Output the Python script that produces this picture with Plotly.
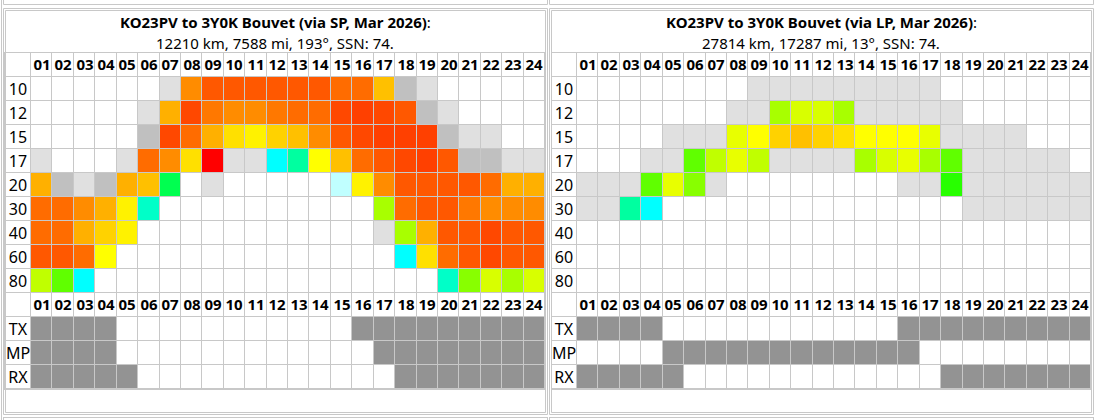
"""
Two propagation panels (short path / long path): hour x band grids,
with the TX / MP / RX daylight strips underneath.
"""

import numpy as np
import plotly.graph_objects as go

W, H = 1105, 420
FONT = "Noto Sans"
LINE = "#c8c8c8"

HOURS = [f"{h:02d}" for h in range(1, 25)]
BANDS = ["10", "12", "15", "17", "20", "30", "40", "60", "80"]
STRIPS = ["TX", "MP", "RX"]

# colour index of each cell: 0 closed, 1-2 marginal greys, then cyan -> red, last = strip grey
PALETTE = [
    "#ffffff", "#e0e0e0", "#c0c0c0", "#c0ffff", "#00ffff", "#00ffc8", "#00ffa0",
    "#00ff50", "#28ff00", "#60ff00", "#88ff00", "#a8ff00", "#c0ff00", "#d8ff00",
    "#e8ff00", "#ffff00", "#fff200", "#ffe000", "#ffd200", "#ffc000", "#ffb000",
    "#ff8c00", "#ff7800", "#ff6c00", "#ff5800", "#ff4800", "#ff4000", "#ff0000",
    "#939393",
]
STRIP_ON = len(PALETTE) - 1

SP_TITLE = "KO23PV to 3Y0K Bouvet (via SP, Mar 2026)"
SP_INFO = "12210 km, 7588 mi, 193°, SSN: 74."
SP_GRID = [
    [0, 0, 0, 0, 0, 0, 1, 21, 24, 24, 24, 24, 24, 24, 23, 23, 19, 2, 1, 0, 0, 0, 0, 0],
    [0, 0, 0, 0, 0, 1, 20, 25, 22, 21, 21, 22, 23, 23, 25, 26, 25, 24, 2, 1, 0, 0, 0, 0],
    [0, 0, 0, 0, 0, 2, 25, 23, 20, 17, 16, 18, 19, 21, 24, 25, 26, 26, 26, 2, 1, 1, 0, 0],
    [1, 0, 0, 0, 1, 23, 21, 17, 27, 1, 1, 4, 6, 15, 19, 23, 24, 25, 26, 24, 2, 2, 1, 1],
    [20, 2, 1, 2, 20, 19, 7, 0, 1, 0, 0, 0, 0, 0, 3, 16, 21, 24, 24, 24, 24, 23, 20, 20],
    [23, 23, 21, 20, 16, 5, 0, 0, 0, 0, 0, 0, 0, 0, 0, 0, 11, 23, 24, 24, 22, 21, 21, 21],
    [23, 23, 20, 18, 16, 0, 0, 0, 0, 0, 0, 0, 0, 0, 0, 0, 1, 11, 20, 24, 24, 25, 24, 24],
    [24, 24, 23, 15, 0, 0, 0, 0, 0, 0, 0, 0, 0, 0, 0, 0, 0, 4, 17, 23, 24, 25, 24, 24],
    [12, 9, 4, 0, 0, 0, 0, 0, 0, 0, 0, 0, 0, 0, 0, 0, 0, 0, 0, 5, 10, 13, 11, 13],
]
SP_STRIPS = [
    [1, 1, 1, 1, 0, 0, 0, 0, 0, 0, 0, 0, 0, 0, 0, 1, 1, 1, 1, 1, 1, 1, 1, 1],
    [1, 1, 1, 1, 0, 0, 0, 0, 0, 0, 0, 0, 0, 0, 0, 0, 1, 1, 1, 1, 1, 1, 1, 1],
    [1, 1, 1, 1, 1, 0, 0, 0, 0, 0, 0, 0, 0, 0, 0, 0, 0, 1, 1, 1, 1, 1, 1, 1],
]

LP_TITLE = "KO23PV to 3Y0K Bouvet (via LP, Mar 2026)"
LP_INFO = "27814 km, 17287 mi, 13°, SSN: 74."
LP_GRID = [
    [0, 0, 0, 0, 0, 0, 0, 0, 1, 1, 1, 1, 1, 1, 1, 1, 1, 0, 0, 0, 0, 0, 0, 0],
    [0, 0, 0, 0, 0, 0, 0, 1, 1, 11, 13, 13, 11, 1, 1, 1, 1, 1, 0, 0, 0, 0, 0, 0],
    [0, 0, 0, 0, 1, 1, 1, 14, 15, 18, 19, 18, 17, 15, 15, 15, 14, 1, 1, 1, 1, 0, 0, 0],
    [0, 0, 0, 1, 1, 9, 12, 14, 12, 1, 1, 1, 1, 11, 13, 14, 11, 9, 1, 1, 1, 1, 1, 0],
    [1, 1, 1, 9, 14, 10, 1, 0, 0, 0, 0, 0, 0, 0, 0, 1, 1, 8, 1, 1, 1, 1, 1, 1],
    [1, 1, 6, 4, 0, 0, 0, 0, 0, 0, 0, 0, 0, 0, 0, 0, 0, 0, 1, 1, 1, 1, 1, 1],
    [0] * 24,
    [0] * 24,
    [0] * 24,
]
LP_STRIPS = [
    [1, 1, 1, 1, 0, 0, 0, 0, 0, 0, 0, 0, 0, 0, 0, 1, 1, 1, 1, 1, 1, 1, 1, 1],
    [0, 0, 0, 0, 1, 1, 1, 1, 1, 1, 1, 1, 1, 1, 1, 1, 0, 0, 0, 0, 0, 0, 0, 0],
    [1, 1, 1, 1, 1, 0, 0, 0, 0, 0, 0, 0, 0, 0, 0, 0, 0, 1, 1, 1, 1, 1, 1, 1],
]

# discrete colour scale, one flat band per palette index
n_col = len(PALETTE)
SCALE = []
for i, c in enumerate(PALETTE):
    SCALE += [[i / n_col, c], [(i + 1) / n_col, c]]

# pixel layout of a panel (left panel; right one is shifted)
PANEL_SHIFT = 546
TABLE_X0, TABLE_X1 = 5, 545
LABEL_W = 26
CELL_W = (TABLE_X1 - TABLE_X0 - LABEL_W) / 24
ROWS_Y0, ROW_H = 53, 24
N_ROWS = 1 + len(BANDS) + 1 + len(STRIPS)
LW = LABEL_W / CELL_W


def px(x):
    return x / W


def py(y):
    return 1 - y / H


def cells(z, x, y, text=None, bold=False, size=15, axis=""):
    tr = dict(
        z=z, x=x, y=y,
        zmin=-0.5, zmax=n_col - 0.5, colorscale=SCALE, showscale=False,
        xgap=1, ygap=1, hoverinfo="skip",
        xaxis="x" + axis, yaxis="y" + axis,
    )
    if text is not None:
        tr.update(
            text=text, texttemplate="%{text}",
            textfont=dict(family=FONT, size=size, color="black",
                          weight="bold" if bold else "normal"),
        )
    return go.Heatmap(**tr)


fig = go.Figure()
panels = [(SP_TITLE, SP_INFO, SP_GRID, SP_STRIPS, ""), (LP_TITLE, LP_INFO, LP_GRID, LP_STRIPS, "2")]
cols = np.arange(25)

for k, (title, info, grid, strips, ax) in enumerate(panels):
    ox = k * PANEL_SHIFT
    blank = [[0] * 24]
    nb = len(BANDS)
    fig.add_trace(cells(blank, cols, [0, 1], text=[HOURS], bold=True, axis=ax))
    fig.add_trace(cells(grid, cols, 1 + np.arange(nb + 1), axis=ax))
    fig.add_trace(cells(blank, cols, [nb + 1, nb + 2], text=[HOURS], bold=True, axis=ax))
    fig.add_trace(cells((np.asarray(strips) * STRIP_ON).tolist(), cols,
                        nb + 2 + np.arange(len(STRIPS) + 1), axis=ax))

    # label column on the left
    labels = [""] + BANDS + [""] + STRIPS
    fig.add_trace(cells([[0]] * N_ROWS, [-LW, 0], np.arange(N_ROWS + 1),
                        text=[[t] for t in labels], size=16, axis=ax))

    axis_style = dict(showgrid=False, zeroline=False, showticklabels=False, ticks="",
                      showline=True, mirror=True, linecolor=LINE, linewidth=1, fixedrange=True)
    fig.update_layout(**{
        "xaxis" + ax: dict(axis_style, range=[-LW, 24],
                           domain=[px(ox + TABLE_X0), px(ox + TABLE_X1)]),
        "yaxis" + ax: dict(axis_style, range=[N_ROWS, 0],
                           domain=[py(ROWS_Y0 + N_ROWS * ROW_H), py(ROWS_Y0)]),
    })

    cx = px(ox + (TABLE_X0 + TABLE_X1) / 2)
    fig.add_annotation(x=cx, y=py(22), xref="paper", yref="paper", showarrow=False,
                       xanchor="center", yanchor="middle",
                       text=f"<b>{title}</b>:", font=dict(family=FONT, size=15, color="black"))
    fig.add_annotation(x=cx, y=py(43), xref="paper", yref="paper", showarrow=False,
                       xanchor="center", yanchor="middle",
                       text=info, font=dict(family=FONT, size=15, color="black"))

    # table borders: inner table, its cell, and the neighbouring rows peeking in
    for x0, y0, x1, y1 in [(TABLE_X0, 10, TABLE_X1, 412), (3, 8, 547, 414)]:
        fig.add_shape(type="rect", xref="paper", yref="paper",
                      x0=px(ox + x0 + 0.5), x1=px(ox + x1 + 0.5), y0=py(y0 + 0.5), y1=py(y1 + 0.5),
                      line=dict(color=LINE, width=1))
    for y in (4, 417):
        fig.add_shape(type="line", xref="paper", yref="paper",
                      x0=px(ox + 3.5), x1=px(ox + 547.5), y0=py(y + 0.5), y1=py(y + 0.5),
                      line=dict(color=LINE, width=1))
    for x in (3, 547):
        for ya, yb in ((0, 4), (417, 420)):
            fig.add_shape(type="line", xref="paper", yref="paper",
                          x0=px(ox + x + 0.5), x1=px(ox + x + 0.5), y0=py(ya), y1=py(yb + 0.5),
                          line=dict(color=LINE, width=1))

fig.add_shape(type="line", xref="paper", yref="paper", x0=px(1.5), x1=px(1.5), y0=0, y1=1,
              line=dict(color=LINE, width=1))

fig.update_layout(
    width=W, height=H,
    margin=dict(l=0, r=0, t=0, b=0),
    paper_bgcolor="white", plot_bgcolor=LINE,
    showlegend=False,
)

# page body margin would push the table 8px off
fig.write_html("out.html", config={"displayModeBar": False},
               post_script="document.body.style.margin = '0';")
